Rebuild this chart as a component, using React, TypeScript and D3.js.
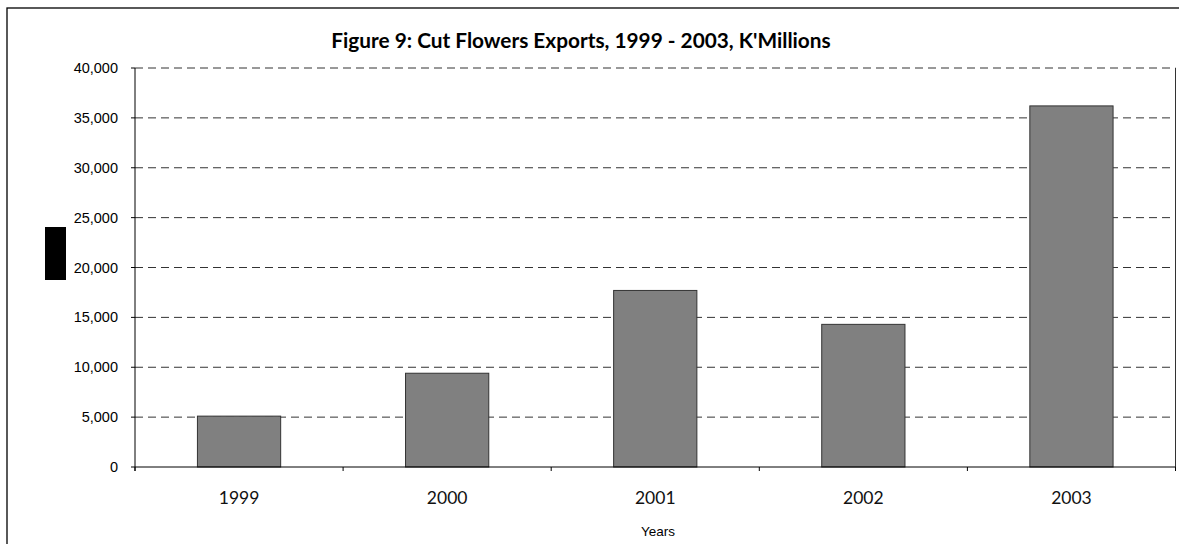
import React from "react";
import * as d3 from "d3";

const years = ["1999", "2000", "2001", "2002", "2003"];
const exportsValues = [5100, 9400, 17700, 14300, 36200];
const yTicks = [0, 5000, 10000, 15000, 20000, 25000, 30000, 35000, 40000];
const titleText = "Figure 9: Cut Flowers Exports, 1999 - 2003, K'Millions";
const xAxisTitle = "Years";

export default function App() {
  const W = 1179, H = 544;
  const left = 135, right = 1175.5, top = 68, bottom = 467;
  const x = d3.scaleBand<string>().domain(years).range([left, right]).paddingInner(0).paddingOuter(0);
  const y = d3.scaleLinear().domain([0, 40000]).range([bottom, top]);
  const bw = x.bandwidth() * 0.4;
  const fmt = d3.format(",");
  const boundaries = [...years.map((d) => x(d) as number), right];
  return (
    <svg width={W} height={H} style={{ position: "fixed", left: 0, top: 0, background: "#fff" }}>
      <rect x={0} y={0} width={W} height={H} fill="#fff" />
      <rect x={7} y={8} width={W + 10} height={H + 10} fill="none" stroke="#000" strokeWidth={1.3} />
      <text x={581} y={48} textAnchor="middle" fontFamily="Lato, 'Open Sans', sans-serif" fontWeight="bold" fontSize={20.8} fill="#000">
        {titleText}
      </text>
      {yTicks.filter((t) => t > 0).map((t) => (
        <line key={"g" + t} x1={left} x2={right} y1={y(t)} y2={y(t)} stroke="#333" strokeWidth={1} strokeDasharray="8,5" />
      ))}
      <line x1={right} x2={right} y1={top} y2={bottom + 4} stroke="#333" strokeWidth={1} />
      {years.map((d, i) => (
        <rect
          key={d}
          x={(x(d) as number) + (x.bandwidth() - bw) / 2}
          y={y(exportsValues[i])}
          width={bw}
          height={bottom - y(exportsValues[i])}
          fill="#808080"
          stroke="#333"
          strokeWidth={1}
        />
      ))}
      <line x1={left} x2={left} y1={top} y2={bottom + 4} stroke="#000" strokeWidth={1} />
      <line x1={left} x2={right} y1={bottom} y2={bottom} stroke="#000" strokeWidth={1} />
      {yTicks.map((t) => (
        <g key={"t" + t}>
          <line x1={left - 4} x2={left} y1={y(t)} y2={y(t)} stroke="#000" strokeWidth={1} />
          <text x={118} y={y(t)} dy="0.35em" textAnchor="end" fontFamily="'Liberation Sans', Arial, sans-serif" fontSize={14.5} fill="#000">
            {fmt(t)}
          </text>
        </g>
      ))}
      {boundaries.map((b, i) => (
        <line key={"xb" + i} x1={b} x2={b} y1={bottom} y2={bottom + 4} stroke="#000" strokeWidth={1} />
      ))}
      {years.map((d) => (
        <text key={"xl" + d} x={(x(d) as number) + x.bandwidth() / 2} y={504} textAnchor="middle" fontFamily="Lato, 'Open Sans', sans-serif" fontWeight={400} fontSize={17.5} fill="#111">
          {d}
        </text>
      ))}
      <text x={658} y={536} textAnchor="middle" fontFamily="'Liberation Sans', Arial, sans-serif" fontSize={13.5} fill="#000">
        {xAxisTitle}
      </text>
      <rect x={45} y={227} width={21} height={53} fill="#000" />
    </svg>
  );
}
